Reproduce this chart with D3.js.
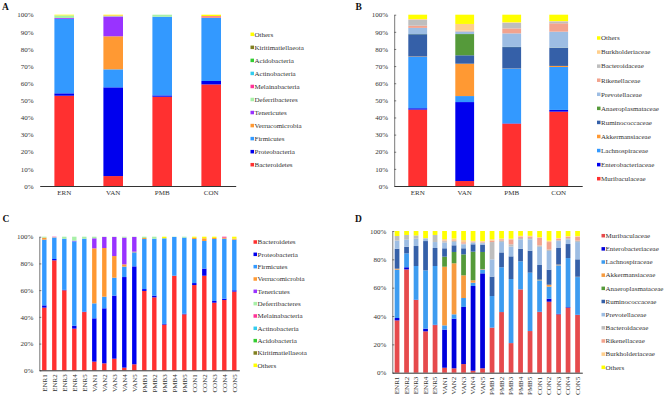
<!DOCTYPE html>
<html><head><meta charset="utf-8">
<script src="https://cdn.jsdelivr.net/npm/d3@7"></script>
<style>
html,body{margin:0;padding:0;background:#fff;}
svg{display:block;}
text{font-family:"Liberation Serif","Times New Roman",serif;}
</style></head>
<body>
<svg id="c" width="669" height="400"></svg>
<script>
// ---------- DATA ----------
const groups = ["ERN", "VAN", "PMB", "CON"];
const samples = ["ENR1","ENR2","ENR3","ENR4","ENR5","VAN1","VAN2","VAN3","VAN4","VAN5",
                 "PMB1","PMB2","PMB3","PMB4","PMB5","CON1","CON2","CON3","CON4","CON5"];

// phylum names in stacking order (bottom -> top)
const phyla = ["Bacteroidetes","Proteobacteria","Firmicutes","Verrucomicrobia","Tenericutes",
  "Deferribacteres","Melainabacteria","Actinobacteria","Acidobacteria","Kiritimatiellaeota","Others"];
const phylaColors = ["#FF3030","#0000EE","#3399FF","#FF9933","#9933FF",
  "#A8F0A8","#FF3399","#33CCEE","#33CC33","#808020","#FFFF00"];

// family names in stacking order for panel B (bottom -> top)
const familiesB = ["Muribaculaceae","Enterobacteriaceae","Lachnospiraceae","Akkermansiaceae",
  "Ruminococcaceae","Anaeroplasmataceae","Prevotellaceae","Rikenellaceae","Bacteroidaceae",
  "Burkholderiaceae","Others"];
const familiesBColors = ["#FF3030","#0000EE","#3399FF","#FF9933","#3560A8","#559A3A",
  "#9DBDE3","#F2A38E","#BEBEBE","#FFCF8C","#FFFF00"];

// family names in stacking order for panel D (bottom -> top)
const familiesD = ["Muribaculaceae","Enterobacteriaceae","Lachnospiraceae","Akkermansiaceae",
  "Anaeroplasmataceae","Ruminococcaceae","Prevotellaceae","Bacteroidaceae","Rikenellaceae",
  "Burkholderiaceae","Others"];
const familiesDColors = ["#E64A4C","#0000DD","#3D9CF0","#F79B3F","#559A3A","#3560A8",
  "#9DBDE3","#BEBEBE","#F2A38E","#FFCF8C","#FFFF00"];

// Panel A: phylum, per group (rows follow `phyla`)
const phylumGroup = [
  [52.7, 5.8, 52.1, 59.3],
  [1.4, 51.8, 0.8, 2.0],
  [43.4, 10.5, 45.9, 36.9],
  [0.1, 19.3, 0, 0.3],
  [0.5, 11.6, 0, 0],
  [1.5, 0.3, 1.2, 0],
  [0, 0.2, 0, 0.6],
  [0, 0, 0, 0],
  [0, 0, 0, 0],
  [0, 0, 0, 0],
  [0.4, 0.5, 0, 0.9]
];

// Panel B: family, per group (rows follow `familiesB`)
const familyGroup = [
  [44.6, 2.9, 36.4, 43.4],
  [0.8, 46.1, 0.2, 1.0],
  [30.0, 3.5, 31.9, 25.1],
  [0.2, 18.9, 0.1, 0.6],
  [13.0, 4.9, 12.5, 10.6],
  [0.1, 12.4, 0.1, 0.1],
  [3.6, 1.2, 7.9, 9.3],
  [1.3, 0.3, 2.9, 4.9],
  [3.4, 0.5, 3.3, 1.1],
  [0.5, 3.9, 0.3, 0.2],
  [2.5, 5.4, 4.4, 3.7]
];

// Panel C: phylum, per sample (rows follow `phyla`)
const phylumSample = [
  [46.9,82.3,59.9,31.2,43.6, 6.5, 5.2, 8.7, 2.0, 4.5, 59.4,54.6,34.2,70.8,41.9, 63.8,70.8,50.6,52.6,58.9],
  [1.7, 1.0, 0.3, 2.2, 0.3, 32.4,41.2,47.2,67.8,73.3, 1.4, 1.3, 0.5, 0, 0.4, 1.5, 5.3, 1.3, 1.0, 1.0],
  [49.2,16.0,38.3,63.1,54.6, 11.2,8.7,13.4,7.8,10.5, 37.5,42.6,64.1,29.0,57.0, 33.0,20.7,46.4,44.9,37.9],
  [1.5, 0, 0, 0, 0, 41.2,36.4,16.2,1.7,0.5, 0.7, 0, 0, 0, 0, 0.9, 2.0, 0.8, 0.8, 0.8],
  [0, 0, 0, 0.5, 0, 7.5, 8.3, 14.3,20.0,11.0, 0, 0, 0, 0, 0, 0, 0, 0, 0, 0],
  [0.7, 0.3, 1.5, 3.0, 1.5, 1.2, 0.2, 0.2, 0.7, 0.2, 1.0, 1.5, 0, 0.2, 0.7, 0, 0, 0, 0, 0],
  [0, 0.4, 0, 0, 0, 0, 0, 0, 0, 0, 0, 0, 0, 0, 0, 0, 0, 0, 0.7, 0],
  [0, 0, 0, 0, 0, 0, 0, 0, 0, 0, 0, 0, 0, 0, 0, 0, 0, 0, 0, 0],
  [0, 0, 0, 0, 0, 0, 0, 0, 0, 0, 0, 0, 0, 0, 0, 0, 0, 0, 0, 0],
  [0, 0, 0, 0, 0, 0, 0, 0, 0, 0, 0, 0, 0, 0, 0, 0, 0, 0, 0, 0],
  [0, 0, 0, 0, 0, 0, 0, 0, 0, 0, 0, 0, 1.2, 0, 0, 0.8, 1.2, 0.9, 0, 1.4]
];

// Panel D: family, per sample (rows follow `familiesD`)
const familySample = [
  [36.9,72.9,51.3,29.2,33.6, 3.5, 3.1, 6.1, 1.4, 3.1, 31.8,42.8,20.9,58.8,29.4, 42.8,50.1,41.2,45.9,40.7],
  [1.7, 1.5, 0.2, 1.9, 0.2, 26.9,35.0,40.3,59.8,67.0, 0, 0, 0, 0, 0, 0.2, 2.1, 0.3, 0.4, 0.2],
  [34.1,9.8,23.8,41.1,41.5, 3.0, 3.1, 6.3, 2.3, 2.8, 22.3,31.6,45.2,19.8,41.2, 22.2,8.5,34.3,34.6,26.6],
  [0.7, 0, 0, 0, 0, 41.4,36.0,16.0,1.7, 0.3, 0, 0, 0, 0, 0, 0.2, 1.4, 0.5, 0, 0.2],
  [0, 0, 0, 0, 0, 7.1, 8.0, 14.8,20.2,12.0, 0, 0, 0, 0, 0, 0.3, 0, 0, 0, 0],
  [14.1,4.7,14.1,20.7,12.7, 5.9, 4.7, 4.3, 5.2, 5.2, 13.7,10.5,16.0,8.9,15.5, 10.3,10.6,11.7,9.9,12.3],
  [5.7, 5.2, 5.2, 1.7, 4.2, 4.0, 2.3, 2.8, 1.0, 1.0, 12.2,7.3, 6.9, 6.6, 8.0, 12.8,13.2,4.9, 3.3, 12.2],
  [3.3, 3.1, 2.3, 0.4, 5.0, 1.0, 0.8, 0.5, 0.5, 0.5, 12.2,1.0, 1.6, 1.0, 1.0, 1.0, 1.0, 0.6, 0.8, 1.0],
  [0, 0, 0, 0, 0, 0.5, 0.5, 1.0, 0.5, 0.5, 1.0, 1.0, 3.5, 1.0, 1.0, 5.3, 5.3, 1.0, 1.0, 2.8],
  [0, 0, 0, 0, 0, 1.0, 1.2, 1.5, 0.5, 0.6, 1.0, 0.5, 0.5, 0.5, 0.5, 0.5, 1.0, 0.6, 0.5, 0.5],
  [3.5, 2.8, 3.1, 5.0, 2.8, 5.7, 5.3, 6.4, 6.9, 7.0, 5.8, 5.3, 5.4, 3.4, 3.4, 4.4, 6.8, 4.9, 3.6, 3.5]
];

const ticksAB = [0,10,20,30,40,50,60,70,80,90,100];
const ticksCD = [0,20,40,60,80,100];

// ---------- DRAW ----------
const svg = d3.select("#c");
const FONT = 7;
const TXT = "#333";

function panel(o) {
  const g = svg.append("g");
  const rows = o.cats.map((c, i) => {
    const r = {cat: c};
    o.names.forEach((n, j) => r[n] = o.matrix[j][i]);
    return r;
  });
  const stack = d3.stack().keys(o.names)(rows);
  const x = d3.scaleBand().domain(o.cats).range([o.x0, o.x1]).paddingInner(o.pad).paddingOuter(o.pad / 2);
  const y = d3.scaleLinear().domain([0, 100]).range([o.yBot, o.yTop]);
  const color = d3.scaleOrdinal().domain(o.names).range(o.colors);

  g.selectAll("g.s").data(stack).join("g").attr("fill", d => color(d.key))
    .selectAll("rect").data(d => d).join("rect")
    .attr("x", d => x(d.data.cat))
    .attr("width", x.bandwidth())
    .attr("y", d => y(d[1]))
    .attr("height", d => Math.max(0, y(d[0]) - y(d[1])));

  // y axis
  const ya = g.append("g").attr("transform", `translate(${o.x0},0)`)
    .call(d3.axisLeft(y).tickValues(o.ticks).tickFormat(d => d + "%")
      .tickSizeInner(o.yLine ? -2 : 0).tickSizeOuter(0).tickPadding(6));
  ya.select(".domain").attr("stroke", o.yLine ? "#555" : "none").attr("stroke-width", 0.8);
  ya.selectAll(".tick line").attr("stroke", "#555").attr("stroke-width", 0.8);
  ya.selectAll("text").attr("font-size", FONT).attr("fill", TXT)
    .attr("font-family", '"Liberation Serif","Times New Roman",serif');

  // x axis
  const xa = g.append("g").attr("transform", `translate(0,${o.yBot})`)
    .call(d3.axisBottom(x).tickSize(0).tickSizeOuter(0).tickPadding(o.rotate ? 4 : 4.5));
  xa.select(".domain").attr("stroke", "#333").attr("stroke-width", 1);
  const xt = xa.selectAll("text").attr("font-size", FONT).attr("fill", TXT)
    .attr("font-family", '"Liberation Serif","Times New Roman",serif');
  if (o.rotate) {
    xt.attr("transform", "rotate(-90)").attr("text-anchor", "end")
      .attr("x", -4).attr("y", 0).attr("dy", "0.33em");
  }

  // legend
  const order = o.legendTopDown;
  const ly = d3.scalePoint().domain(order).range([o.legend.y0, o.legend.y1]);
  const lg = g.append("g");
  order.forEach(n => {
    lg.append("rect").attr("x", o.legend.x).attr("y", ly(n) - 1.75)
      .attr("width", 3.5).attr("height", 3.5).attr("fill", color(n));
    lg.append("text").attr("x", o.legend.x + 4).attr("y", ly(n))
      .attr("dy", "0.33em").attr("font-size", FONT).attr("fill", TXT).text(n);
  });

  // panel letter
  g.append("text").attr("x", o.letter[0]).attr("y", o.letter[1])
    .attr("font-family", '"Liberation Sans",Arial,sans-serif').attr("font-weight", "bold")
    .attr("font-size", 9.5).attr("fill", "#111").text(o.label);
}

panel({label: "A", letter: [2, 9.5], cats: groups, names: phyla, colors: phylaColors, matrix: phylumGroup,
  x0: 39.7, x1: 235.7, pad: 0.6, yTop: 14.7, yBot: 186, ticks: ticksAB, rotate: false, yLine: false,
  legendTopDown: phyla.slice().reverse(), legend: {x: 250.5, y0: 34.3, y1: 164.7}});

panel({label: "B", letter: [355.5, 9.5], cats: groups, names: familiesB, colors: familiesBColors, matrix: familyGroup,
  x0: 394.2, x1: 582.2, pad: 0.6, yTop: 14.7, yBot: 186, ticks: ticksAB, rotate: false, yLine: true,
  legendTopDown: familiesB.slice().reverse(), legend: {x: 597, y0: 38, y1: 178.7}});

panel({label: "C", letter: [2.5, 221.7], cats: samples, names: phyla, colors: phylaColors, matrix: phylumSample,
  x0: 39.3, x1: 239.3, pad: 0.56, yTop: 236.7, yBot: 370.3, ticks: ticksCD, rotate: true, yLine: true,
  legendTopDown: phyla, legend: {x: 253.5, y0: 242, y1: 365.3}});

panel({label: "D", letter: [355, 221.7], cats: samples, names: familiesD, colors: familiesDColors, matrix: familySample,
  x0: 392.3, x1: 582.3, pad: 0.5, yTop: 231, yBot: 372.7, ticks: ticksCD, rotate: true, yLine: true,
  legendTopDown: familiesD, legend: {x: 601.5, y0: 235.7, y1: 367.3}});
</script>
</body></html>
